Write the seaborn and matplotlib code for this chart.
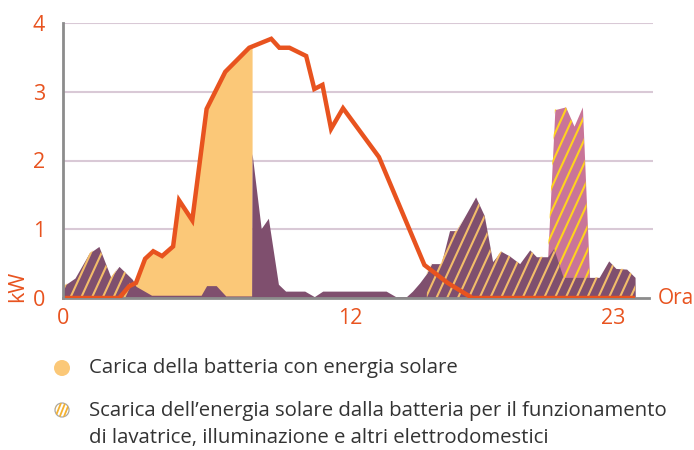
import numpy as np
import pandas as pd
import matplotlib
matplotlib.use("Agg")
import matplotlib.pyplot as plt
import seaborn as sns
from matplotlib.collections import LineCollection
from matplotlib.path import Path
from matplotlib.patches import Circle

# ---------------- data ----------------
solar_h = [0, 2.35, 2.76, 3.05, 3.43, 3.77, 4.14, 4.6, 4.85, 5.4, 6.0, 6.78, 7.78,
           8.7, 9.04, 9.46, 10.16, 10.5, 10.84, 11.2, 11.7, 13.2, 15.1, 16.07, 17.1, 23.9]
solar_kw = [0, 0, 0.17, 0.22, 0.57, 0.68, 0.61, 0.75, 1.42, 1.13, 2.75, 3.29, 3.64,
            3.77, 3.64, 3.64, 3.52, 3.04, 3.1, 2.46, 2.76, 2.05, 0.48, 0.22, 0, 0]

charge_h = [2.76, 3.05, 3.43, 3.77, 4.14, 4.6, 4.85, 5.4, 6.0, 6.78, 7.78, 7.9]
charge_kw = [0.17, 0.22, 0.57, 0.68, 0.61, 0.75, 1.42, 1.13, 2.75, 3.29, 3.64, 3.66]

cons_h = [0, 0.5, 1.09, 1.5, 2.0, 2.34, 2.9, 3.05, 3.7, 5.77, 6.0, 6.4, 6.8, 7.88,
          7.9, 8.28, 8.58, 9.0, 9.3, 10.1, 10.5, 10.85, 13.5, 13.9, 14.35, 14.6,
          14.9, 15.2, 15.4, 15.8, 16.15, 16.45, 17.24, 17.6, 17.95, 18.3, 18.66,
          19.08, 19.5, 19.78, 20.25, 20.5, 20.9, 22.4, 22.8, 23.1, 23.55, 23.9, 23.91]
cons_kw = [0.17, 0.29, 0.65, 0.75, 0.3, 0.46, 0.27, 0.17, 0.04, 0.04, 0.18, 0.18, 0.03, 0.03,
           2.1, 1.01, 1.16, 0.2, 0.1, 0.1, 0.02, 0.1, 0.1, 0.02, 0.02, 0.1,
           0.22, 0.36, 0.5, 0.5, 0.98, 0.98, 1.47, 1.2, 0.53, 0.68, 0.61,
           0.5, 0.7, 0.6, 0.6, 0.72, 0.3, 0.3, 0.54, 0.43, 0.42, 0.3, 0]

wash_h = [20.25, 20.55, 21.0, 21.35, 21.7, 22.0]
wash_kw = [0.6, 2.74, 2.78, 2.5, 2.78, 0.3]

discharge_ranges = [(0, 2.8), (15.2, 23.91)]

x_ticks = [0, 12, 23]
y_ticks = [0, 1, 2, 3, 4]
legend_line1 = "Carica della batteria con energia solare"
legend_line2 = "Scarica dell\u2019energia solare dalla batteria per il funzionamento"
legend_line3 = "di lavatrice, illuminazione e altri elettrodomestici"

# ---------------- style ----------------
sns.set_theme(style="white")
plt.rcParams['font.family'] = ['Open Sans', 'DejaVu Sans']

ORANGE = "#e8531f"
YELLOW = "#fbc878"
PURPLE = "#7f4f6e"
PINK = "#c97598"
HATCH1 = "#f3bd6a"
HATCH2 = "#ffd21f"
GRID = "#d9c9d6"
AXIS = "#8c8c8c"
TEXT = "#333333"

fig = plt.figure(figsize=(6.94, 4.5), dpi=100)
ax = fig.add_axes([63 / 694, 1 - 298 / 450, 590 / 694, 275 / 450])
ax.set_xlim(0, 24.65)
ax.set_ylim(0, 4)

for y in y_ticks[1:]:
    ax.axhline(y, color=GRID, lw=1.5, zorder=0)

# washing machine spike (behind consumption)
ax.fill_between(wash_h, 0, wash_kw, color=PINK, lw=0, zorder=1)
# yellow charge area
ax.fill_between(charge_h, 0, charge_kw, color=YELLOW, lw=0, zorder=2)
# consumption
ax.fill_between(cons_h, 0, cons_kw, color=PURPLE, lw=0, zorder=3)

# hatch clip region for discharge
ch = np.array(cons_h)
ck = np.array(cons_kw)
verts = []
codes = []
for a, b in discharge_ranges:
    m = (ch >= a) & (ch <= b)
    xs = ch[m]
    ys = ck[m]
    ya = np.interp(a, ch, ck)
    yb = np.interp(b, ch, ck)
    xs = np.concatenate([[a], xs, [b]])
    ys = np.concatenate([[ya], ys, [yb]])
    poly = [(a, 0)] + list(zip(xs, ys)) + [(b, 0), (a, 0)]
    verts += poly
    codes += [Path.MOVETO] + [Path.LINETO] * (len(poly) - 2) + [Path.CLOSEPOLY]
clip_path = Path(verts, codes)

slope = 0.76
spacing = 0.45
starts = np.arange(-6, 25, spacing)
segs = [[(s, 0), (s + 4 / slope, 4)] for s in starts]

lc1 = LineCollection(segs, colors=HATCH1, linewidths=1.5, zorder=4)
ax.add_collection(lc1)
lc1.set_clip_path(clip_path, ax.transData)

wp = list(zip([wash_h[0]] + wash_h + [wash_h[-1]], [0] + wash_kw + [0]))
wash_path = Path(wp + [wp[0]], [Path.MOVETO] + [Path.LINETO] * (len(wp) - 1) + [Path.CLOSEPOLY])
lc2 = LineCollection(segs, colors=HATCH2, linewidths=1.5, zorder=1.5)
ax.add_collection(lc2)
lc2.set_clip_path(wash_path, ax.transData)

# solar production line
df = pd.DataFrame({"h": solar_h, "kw": solar_kw})
sns.lineplot(data=df, x="h", y="kw", ax=ax, color=ORANGE, lw=3.2, zorder=6,
             solid_joinstyle="miter", solid_capstyle="butt")

# axes styling
for s in ["top", "right"]:
    ax.spines[s].set_visible(False)
ax.spines["left"].set_color(AXIS)
ax.spines["bottom"].set_color(AXIS)
ax.spines["left"].set_linewidth(2)
ax.spines["bottom"].set_linewidth(2)
ax.spines["bottom"].set_bounds(0, 24.5)
ax.spines["left"].set_zorder(7)
ax.spines["bottom"].set_zorder(5)

ax.set_xticks(x_ticks)
ax.set_xticklabels([str(t) for t in x_ticks])
ax.set_yticks(y_ticks)
ax.set_yticklabels([str(t) for t in y_ticks])
ax.tick_params(axis="both", length=0, labelcolor=ORANGE, labelsize=15.5)
ax.tick_params(axis="y", pad=13)
ax.tick_params(axis="x", pad=7)
ax.set_xlabel("")
ax.set_ylabel("")

fig.text(18 / 694, 1 - 286 / 450, "kW", rotation=90, color=ORANGE, fontsize=15.5,
         ha="center", va="center")
fig.text(658 / 694, 1 - 298 / 450, "Ora", color=ORANGE, fontsize=15,
         ha="left", va="center")

# legend
c1 = Circle((62 / 100, (450 - 368) / 100), radius=8 / 100, transform=fig.dpi_scale_trans,
            facecolor=YELLOW, edgecolor="none")
fig.patches.append(c1)
c2 = Circle((62 / 100, (450 - 410) / 100), radius=7 / 100, transform=fig.dpi_scale_trans,
            facecolor="white", edgecolor="#a8a8a8", lw=0.9)
fig.patches.append(c2)
lseg = [[(x0 / 100, (450 - 420) / 100), ((x0 + 8) / 100, (450 - 400) / 100)]
        for x0 in np.arange(50, 72, 4.2)]
lc3 = LineCollection(lseg, colors="#f4b232", linewidths=1.3,
                     transform=fig.dpi_scale_trans)
fig.add_artist(lc3)
lc3.set_clip_path(c2)

fig.text(89 / 694, 1 - 368 / 450, legend_line1, color=TEXT, fontsize=14.7,
         ha="left", va="center")
fig.text(89 / 694, 1 - 411 / 450, legend_line2, color=TEXT, fontsize=14.7,
         ha="left", va="center")
fig.text(89 / 694, 1 - 438 / 450, legend_line3, color=TEXT, fontsize=14.7,
         ha="left", va="center")

fig.savefig("out.png", dpi=100)
